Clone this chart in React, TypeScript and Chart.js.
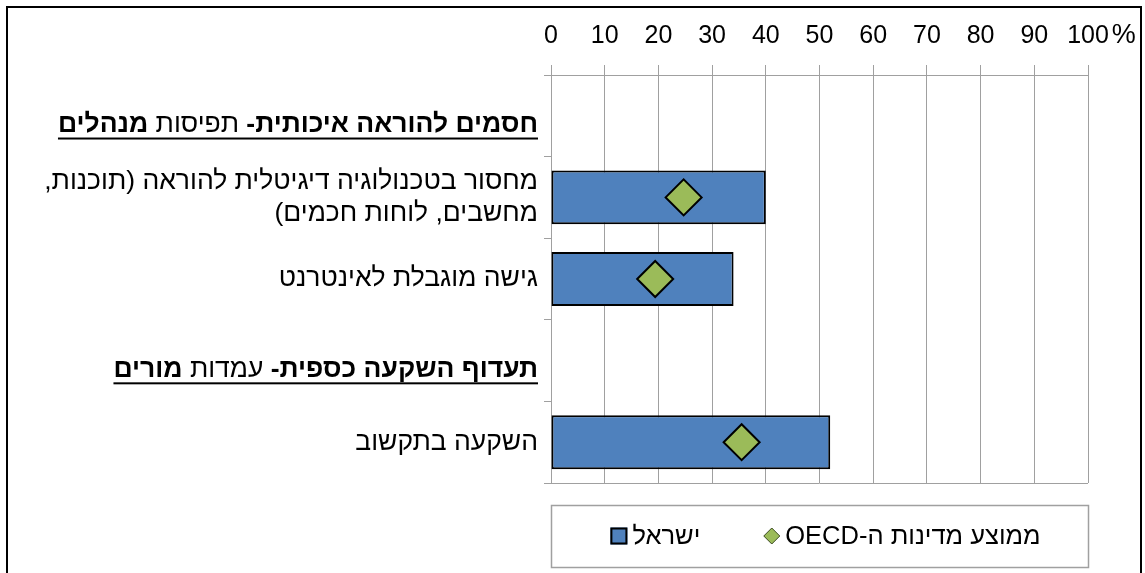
import React, { useEffect, useRef } from "react";
import { Chart, registerables } from "chart.js";

Chart.register(...registerables);

// ---------- data ----------
const categories: (string | string[])[] = [
  "חסמים להוראה איכותית- תפיסות מנהלים",
  ["מחסור בטכנולוגיה דיגיטלית להוראה (תוכנות,", "מחשבים, לוחות חכמים)"],
  "גישה מוגבלת לאינטרנט",
  "תעדוף השקעה כספית- עמדות מורים",
  "השקעה בתקשוב",
];
const headerRows = [0, 3];
const plainWords = ["תפיסות", "עמדות"];
const israelValues: (number | null)[] = [null, 40, 34, null, 52];
const oecdValues: (number | null)[] = [null, 24.7, 19.4, null, 35.5];
const seriesNames = ["ישראל", "ממוצע מדינות ה-OECD"];
const xMin = 0;
const xMax = 100;
const xStep = 10;
const lastTickSuffix = "%";

// ---------- styles ----------
const FONT = '"Liberation Sans", Arial, sans-serif';
const TICK_SIZE = 25;
const LABEL_SIZE = 26.5;
const LEGEND_SIZE = 25.5;
const GRID = "#a0a0a0";
const BLUE = "#4F81BD";
const GREEN = "#9BBB59";

const yLabelPlugin = {
  id: "yLabels",
  afterDraw(chart: any) {
    const ctx = chart.ctx as CanvasRenderingContext2D;
    const yScale = chart.scales.y;
    const xRight = chart.chartArea.left - 13;
    ctx.save();
    ctx.direction = "rtl";
    ctx.textAlign = "right";
    ctx.textBaseline = "middle";
    ctx.fillStyle = "#000";
    const normal = `${LABEL_SIZE}px ${FONT}`;
    const bold = `bold ${LABEL_SIZE}px ${FONT}`;
    categories.forEach((lab, i) => {
      const yc = yScale.getPixelForValue(i);
      if (headerRows.includes(i)) {
        const text = Array.isArray(lab) ? lab.join(" ") : lab;
        const words = text.split(" ");
        const yy = yc + 9;
        let x = xRight;
        words.forEach((w, k) => {
          ctx.font = plainWords.includes(w) ? normal : bold;
          ctx.fillText(w, x, yy);
          x -= ctx.measureText(w).width;
          if (k < words.length - 1) {
            ctx.font = normal;
            x -= ctx.measureText(" ").width;
          }
        });
        ctx.fillRect(x, yy + LABEL_SIZE * 0.48, xRight - x, 2);
      } else {
        const lines = Array.isArray(lab) ? lab : [lab];
        ctx.font = normal;
        const lh = LABEL_SIZE * 1.2;
        lines.forEach((ln, k) => {
          ctx.fillText(ln, xRight, yc + (k - (lines.length - 1) / 2) * lh);
        });
      }
    });
    ctx.restore();
  },
};

const extrasPlugin = {
  id: "extras",
  afterDraw(chart: any) {
    const ctx = chart.ctx as CanvasRenderingContext2D;
    const { left, right, bottom } = chart.chartArea;
    ctx.save();
    // bottom border of plot
    ctx.strokeStyle = GRID;
    ctx.lineWidth = 1;
    ctx.beginPath();
    ctx.moveTo(left, Math.round(bottom) + 0.5);
    ctx.lineTo(right, Math.round(bottom) + 0.5);
    ctx.stroke();

    // "%" after last tick label
    const xs = chart.scales.x;
    const items = xs.getLabelItems ? xs.getLabelItems() : [];
    const last = items[items.length - 1];
    if (last) {
      ctx.font = `${TICK_SIZE}px ${FONT}`;
      ctx.fillStyle = "#000";
      ctx.textAlign = "left";
      ctx.textBaseline = "middle";
      const w = ctx.measureText(String(last.label)).width;
      ctx.font = `${TICK_SIZE + 2}px ${FONT}`;
      ctx.fillText(
        lastTickSuffix,
        last.options.translation[0] + w / 2 + 3,
        last.options.translation[1] + last.textOffset
      );
    }

    // legend box
    const boxTop = Math.round(bottom) + 22;
    const boxH = 62;
    ctx.strokeStyle = GRID;
    ctx.lineWidth = 1.5;
    ctx.strokeRect(left + 0.5, boxTop + 0.5, right - left, boxH);

    ctx.font = `${LEGEND_SIZE}px ${FONT}`;
    ctx.direction = "rtl";
    const ds = chart.data.datasets;
    const marker = 17;
    const gapText = 5;
    const gapItems = 63;
    const widths = ds.map((d: any) => marker + gapText + ctx.measureText(d.label).width);
    const total = widths.reduce((a: number, b: number) => a + b, 0) + gapItems * (ds.length - 1);
    let x = (left + right) / 2 - total / 2 + 6;
    const cy = boxTop + boxH / 2;
    ds.forEach((d: any, i: number) => {
      if (d.type === "line") {
        const r = 8;
        const cx = x + marker / 2;
        ctx.beginPath();
        ctx.moveTo(cx, cy - r);
        ctx.lineTo(cx + r, cy);
        ctx.lineTo(cx, cy + r);
        ctx.lineTo(cx - r, cy);
        ctx.closePath();
        ctx.fillStyle = d.pointBackgroundColor;
        ctx.fill();
        ctx.strokeStyle = "#3a4a20";
        ctx.lineWidth = 1;
        ctx.stroke();
      } else {
        ctx.fillStyle = d.backgroundColor;
        ctx.fillRect(x, cy - marker / 2, marker, marker);
        ctx.strokeStyle = "#000";
        ctx.lineWidth = 2;
        ctx.strokeRect(x + 1, cy - marker / 2 + 1, marker - 2, marker - 2);
      }
      ctx.fillStyle = "#000";
      ctx.textAlign = "left";
      ctx.textBaseline = "middle";
      ctx.fillText(d.label, x + marker + gapText, cy + 1);
      x += widths[i] + gapItems;
    });
    ctx.restore();
  },
};

export default function App() {
  const ref = useRef<HTMLCanvasElement | null>(null);

  useEffect(() => {
    if (!ref.current) return;
    const chart = new Chart(ref.current, {
      type: "bar",
      data: {
        labels: categories.map((c) => (Array.isArray(c) ? c.join(" ") : c)),
        datasets: [
          {
            type: "bar",
            label: seriesNames[0],
            data: israelValues,
            backgroundColor: BLUE,
            borderColor: "#000",
            borderWidth: 2,
            borderSkipped: false,
            barPercentage: 0.66,
            categoryPercentage: 1,
            order: 1,
          } as any,
          {
            type: "line",
            label: seriesNames[1],
            data: oecdValues,
            indexAxis: "y",
            showLine: false,
            pointStyle: "rectRot",
            pointRadius: 18,
            pointHoverRadius: 18,
            pointBackgroundColor: GREEN,
            pointBorderColor: "#000",
            pointBorderWidth: 2,
            order: 0,
          } as any,
        ],
      },
      options: {
        indexAxis: "y",
        responsive: false,
        animation: false,
        events: [],
        layout: { padding: { top: 0, left: 0, right: 52, bottom: 90 } },
        plugins: {
          legend: { display: false },
          tooltip: { enabled: false },
          title: { display: false },
        },
        scales: {
          x: {
            type: "linear",
            position: "top",
            min: xMin,
            max: xMax,
            ticks: {
              stepSize: xStep,
              color: "#000",
              padding: 14,
              font: { family: FONT, size: TICK_SIZE },
              callback: (v: any) => String(v),
            },
            grid: { color: GRID, lineWidth: 1, tickLength: 10 },
            border: { color: GRID, width: 1 },
            afterFit: (s: any) => {
              s.height = 67;
            },
          },
          y: {
            type: "category",
            offset: true,
            ticks: { display: false },
            grid: {
              display: true,
              drawOnChartArea: false,
              offset: true,
              tickLength: 7,
              color: GRID,
              lineWidth: 1,
            },
            border: { color: GRID, width: 1 },
            afterFit: (s: any) => {
              s.width = 543;
            },
          },
        },
      },
      plugins: [yLabelPlugin, extrasPlugin],
    });
    return () => chart.destroy();
  }, []);

  return (
    <div
      style={{
        position: "fixed",
        left: 6,
        top: 6,
        width: 1136,
        height: 578,
        boxSizing: "border-box",
        border: "2px solid #000",
        background: "#fff",
      }}
    >
      <canvas ref={ref} width={1132} height={565} style={{ display: "block" }} />
    </div>
  );
}
